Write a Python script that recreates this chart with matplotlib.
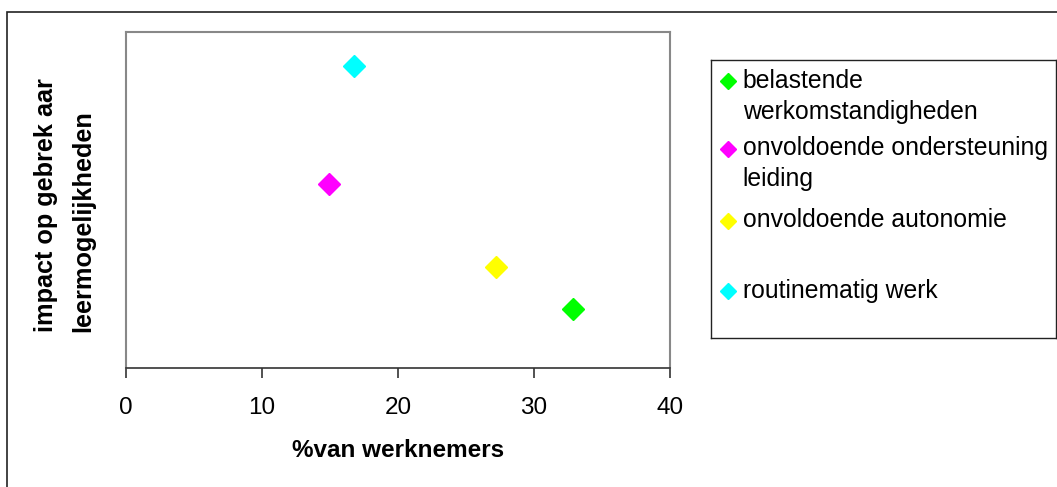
import matplotlib
matplotlib.use("Agg")
import matplotlib.pyplot as plt
from matplotlib.patches import Rectangle

plt.rcParams['font.family'] = ['Liberation Sans', 'DejaVu Sans']

# data (y axis has no scale, values are relative)
series = ["belastende\nwerkomstandigheden",
          "onvoldoende ondersteuning\nleiding",
          "onvoldoende autonomie",
          "routinematig werk"]
pct_werknemers = [32.9, 14.9, 27.2, 16.8]
impact = [0.176, 0.549, 0.301, 0.900]
colours = ["#00ff00", "#ff00ff", "#ffff00", "#00ffff"]
x_ticks = [0, 10, 20, 30, 40]

# legend rows, as fraction of legend box height from the top
legend_rows = [0.077, 0.319, 0.578, 0.831]

W, H = 1057, 487
fig = plt.figure(figsize=(W / 100, H / 100), dpi=100)

# outer chart frame
fig.patches.append(Rectangle((7 / W, -0.1), 1.2, (H - 12) / H + 0.1,
                             transform=fig.transFigure, fill=False,
                             edgecolor="#222222", linewidth=1.2))

ax = fig.add_axes([126 / W, (H - 368) / H, 544 / W, 336 / H])
for name, x, y, c in zip(series, pct_werknemers, impact, colours):
    ax.plot(x, y, marker="D", markersize=11, color=c, linestyle="none",
            label=name)

ax.set_xlim(0, 40)
ax.set_ylim(0, 1)
ax.set_xticks(x_ticks)
ax.set_yticks([])
ax.tick_params(axis="x", direction="out", length=7, width=1.2,
               color="#333333", labelsize=17.5, pad=14)
for side in ["left", "top", "right"]:
    ax.spines[side].set_color("#888888")
    ax.spines[side].set_linewidth(1.5)
ax.spines["bottom"].set_color("#333333")
ax.spines["bottom"].set_linewidth(1.2)

ax.set_xlabel("%van werknemers", fontsize=17.5, fontweight="bold",
              labelpad=14)

fig.text(65 / W, (H - 332) / H, "impact op gebrek aar\nleermogelijkheden",
         rotation=90, ha="center", va="bottom", multialignment="left",
         fontsize=18.2, fontweight="bold", linespacing=1.7)

# legend box, drawn Excel-style with one row per series
lax = fig.add_axes([711 / W, (H - 338) / H, 345 / W, 278 / H])
lax.set_xlim(0, 1)
lax.set_ylim(1, 0)
lax.set_xticks([])
lax.set_yticks([])
for sp in lax.spines.values():
    sp.set_color("#222222")
    sp.set_linewidth(1.0)
for name, c, row in zip(series, colours, legend_rows):
    lax.plot(0.05, row, marker="D", markersize=8.5, color=c,
             linestyle="none")
    lax.text(0.092, row - 0.044, name, ha="left", va="top",
             fontsize=17.8, linespacing=1.36)

fig.savefig("out.png", dpi=100)
